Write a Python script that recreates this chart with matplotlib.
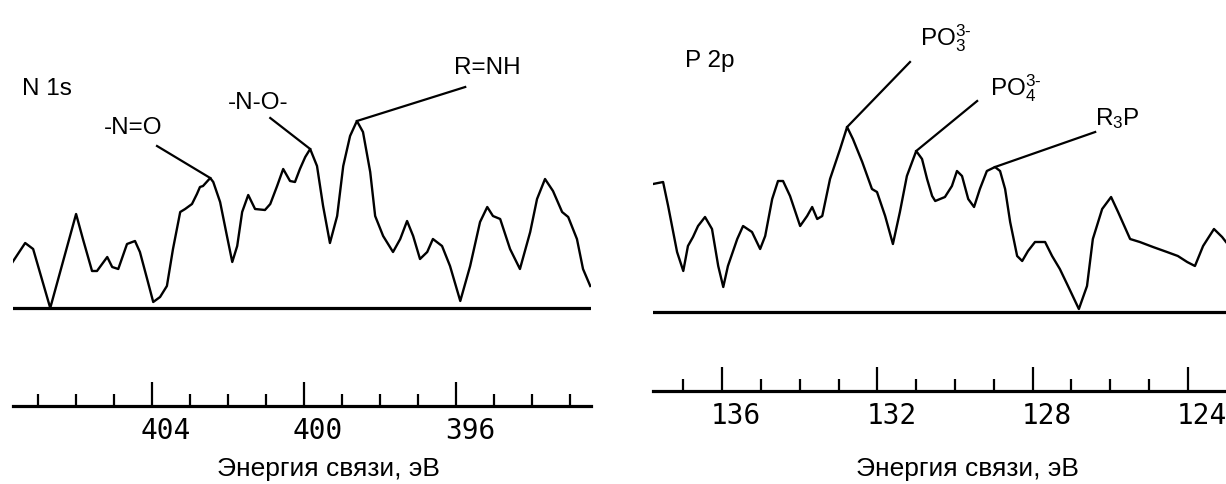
import numpy as np
import matplotlib
matplotlib.use('Agg')
import matplotlib.pyplot as plt
from matplotlib.ticker import MultipleLocator, NullLocator
from matplotlib.transforms import ScaledTranslation

plt.rcParams['font.family'] = ['Liberation Sans', 'DejaVu Sans']
plt.rcParams['mathtext.fontset'] = 'custom'
plt.rcParams['mathtext.rm'] = 'Liberation Sans'

# N 1s spectrum: binding energy (eV) and intensity (a.u., above baseline)
n1s_energy = [407.67, 407.34, 407.13, 406.68, 406.00, 405.82, 405.58, 405.45, 405.18, 405.05,
              404.89, 404.66, 404.45, 404.32, 404.13, 403.97, 403.79, 403.61, 403.45, 403.26,
              403.13, 402.95, 402.82, 402.74, 402.66, 402.47, 402.39, 402.21, 402.03, 401.89,
              401.76, 401.63, 401.47, 401.29, 401.03, 400.89, 400.71, 400.55, 400.37, 400.24,
              400.11, 399.97, 399.84, 399.66, 399.50, 399.32, 399.13, 398.97, 398.79, 398.61,
              398.45, 398.26, 398.13, 397.92, 397.66, 397.47, 397.29, 397.13, 396.95, 396.76,
              396.61, 396.37, 396.16, 395.89, 395.63, 395.37, 395.18, 395.03, 394.84, 394.58,
              394.32, 394.05, 393.87, 393.66, 393.45, 393.21, 393.05, 392.82, 392.66, 392.47]
n1s_intensity = [46, 65, 59, 0, 94, 69, 37, 37, 51, 41,
                 39, 64, 67, 56, 29, 6, 11, 22, 59, 96,
                 99, 104, 114, 121, 122, 130, 126, 106, 72, 46,
                 62, 96, 113, 99, 98, 104, 122, 139, 127, 126,
                 139, 151, 159, 142, 102, 65, 92, 142, 172, 187,
                 176, 136, 92, 72, 56, 69, 87, 72, 49, 56,
                 69, 62, 42, 7, 42, 86, 101, 92, 89, 59,
                 39, 76, 109, 129, 117, 96, 91, 69, 39, 22]

# P 2p spectrum
p2p_energy = [137.78, 137.52, 137.39, 137.16, 137.00, 136.88, 136.75, 136.62, 136.44, 136.26,
              136.10, 135.97, 135.85, 135.61, 135.46, 135.23, 135.02, 134.89, 134.71, 134.56,
              134.43, 134.25, 133.99, 133.81, 133.68, 133.55, 133.42, 133.22, 132.96, 132.78,
              132.63, 132.39, 132.14, 132.01, 131.80, 131.60, 131.42, 131.24, 131.00, 130.85,
              130.72, 130.59, 130.51, 130.26, 130.08, 129.95, 129.82, 129.66, 129.51, 129.36,
              129.18, 128.97, 128.84, 128.71, 128.58, 128.40, 128.27, 128.12, 127.94, 127.68,
              127.50, 127.30, 127.09, 126.81, 126.60, 126.45, 126.21, 125.98, 125.80, 125.49,
              125.24, 124.90, 124.54, 124.26, 124.02, 123.82, 123.61, 123.33, 123.12, 123.02]
p2p_intensity = [128, 130, 106, 60, 41, 66, 75, 86, 95, 83,
                 46, 25, 46, 73, 86, 80, 63, 76, 113, 131,
                 131, 116, 86, 96, 105, 93, 96, 133, 163, 185,
                 173, 150, 123, 120, 96, 68, 100, 136, 161, 153,
                 133, 116, 111, 115, 126, 141, 136, 113, 105, 123,
                 141, 145, 141, 123, 90, 56, 51, 61, 70, 70,
                 56, 43, 26, 3, 26, 73, 103, 115, 100, 73,
                 70, 65, 60, 56, 50, 46, 66, 83, 75, 70]

n1s_labels = ['-N=O', '-N-O-', 'R=NH']
n1s_peak_energy = [402.47, 399.84, 398.61]
p2p_labels = [r'$\mathregular{PO_3^{3\text{-}}}$', r'$\mathregular{PO_4^{3\text{-}}}$',
              r'$\mathregular{R_3P}$']
p2p_peak_energy = [132.78, 131.00, 128.97]

fig = plt.figure(figsize=(12.26, 4.85), dpi=100)
W, H = 1226, 485

# axes placed in pixel terms of the original figure
ax1 = fig.add_axes([13 / W, (H - 407) / H, 578 / W, 407 / H])
ax2 = fig.add_axes([653 / W, (H - 392) / H, 573 / W, 392 / H])

ax1.set_xlim(407.66, 392.45)
ax1.set_ylim(-98, 309)
ax2.set_xlim(137.78, 123.02)
ax2.set_ylim(-79, 313)

offset = ScaledTranslation(14 / 100, 0, fig.dpi_scale_trans)
for ax, e, inten in [(ax1, n1s_energy, n1s_intensity), (ax2, p2p_energy, p2p_intensity)]:
    ax.plot(e, inten, color='black', lw=1.7)
    ax.axhline(0, color='black', lw=2.3)
    for s in ['left', 'right', 'top']:
        ax.spines[s].set_visible(False)
    ax.spines['bottom'].set_linewidth(2.3)
    ax.yaxis.set_major_locator(NullLocator())
    ax.xaxis.set_major_locator(MultipleLocator(4))
    ax.xaxis.set_minor_locator(MultipleLocator(1))
    ax.tick_params(axis='x', which='major', direction='in', length=17, width=1.6,
                   pad=7, labelsize=20)
    ax.tick_params(axis='x', which='minor', direction='in', length=8.5, width=1.6)
    ax.patch.set_alpha(0)
    for lab in ax.get_xticklabels():
        lab.set_fontfamily('DejaVu Sans Mono')
        lab.set_transform(lab.get_transform() + offset)
    ax.set_xlabel('Энергия связи, эВ', fontsize=19)
    ax.xaxis.label.set_verticalalignment('center')

ax1.xaxis.set_label_coords(0.545, -0.152)
ax2.xaxis.set_label_coords(0.548, -0.196)

fs = 17.5
ax1.text(406.76, 220, 'N 1s', fontsize=fs, ha='center', va='center')
ax2.text(136.31, 252, 'P 2p', fontsize=fs, ha='center', va='center')

def peak_height(energy, inten, e0):
    return np.interp(e0, energy[::-1], inten[::-1])

# label layout: (text x, text y, leader start x, leader start y)
n1s_layout = [(404.5, 181, 403.87, 162), (401.21, 206, 400.89, 190), (395.18, 241, 395.76, 221)]
for lab, e0, (tx, ty, lx, ly) in zip(n1s_labels, n1s_peak_energy, n1s_layout):
    pk = peak_height(n1s_energy, n1s_intensity, e0)
    ax1.plot([lx, e0], [ly, pk], color='black', lw=1.6)
    ax1.text(tx, ty, lab, fontsize=fs, ha='center', va='center')

p2p_layout = [(130.90, 268, 131.16, 250), (129.10, 218, 129.43, 211), (126.39, 188, 126.39, 180)]
for lab, e0, (tx, ty, lx, ly) in zip(p2p_labels, p2p_peak_energy, p2p_layout):
    pk = peak_height(p2p_energy, p2p_intensity, e0)
    ax2.plot([lx, e0], [ly, pk], color='black', lw=1.6)
    ax2.text(tx, ty, lab, fontsize=fs, ha='left', va='baseline')

fig.savefig('out.png', dpi=100, facecolor='white')
